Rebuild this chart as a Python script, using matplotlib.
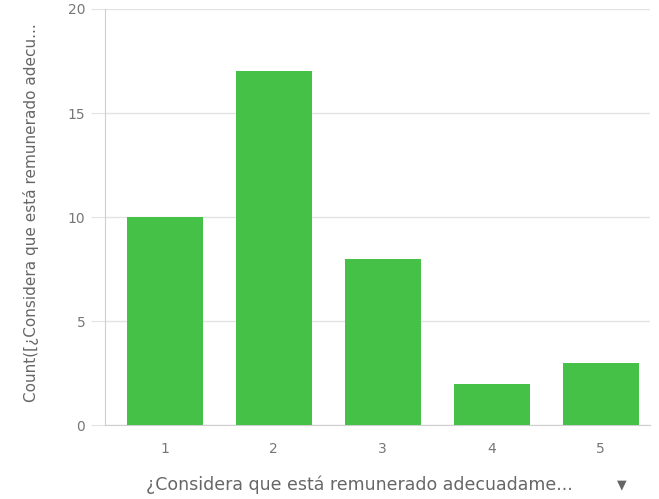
import matplotlib.pyplot as plt

plt.rcParams["font.family"] = "DejaVu Sans"

# datos
categories = ["1", "2", "3", "4", "5"]
counts = [10, 17, 8, 2, 3]
y_ticks = [0, 5, 10, 15, 20]

bar_color = "#45c148"
text_color = "#777777"
grid_color = "#e3e3e3"

fig = plt.figure(figsize=(6.59, 4.99), dpi=100)
ax = fig.add_axes([0.159, 0.148, 0.827, 0.834])

ax.bar(categories, counts, width=0.7, color=bar_color, zorder=3)

ax.set_ylim(0, 20)
ax.set_xlim(-0.55, 4.45)
ax.set_yticks(y_ticks)
ax.set_yticklabels([str(v) for v in y_ticks])
ax.grid(axis="y", color=grid_color, linewidth=1, zorder=0)

for side in ["top", "right"]:
    ax.spines[side].set_visible(False)
ax.spines["left"].set_color("#cfcfcf")
ax.spines["bottom"].set_color("#cfcfcf")

ax.tick_params(axis="y", length=10, color=grid_color, labelsize=10, labelcolor=text_color, pad=4)
ax.tick_params(axis="x", length=0, labelsize=10, labelcolor=text_color, pad=12)

ax.set_ylabel("Count([¿Considera que está remunerado adecu...", fontsize=11,
              color="#666666")
ax.yaxis.set_label_coords(-0.12, 0.51)

fig.text(0.545, 0.028, "¿Considera que está remunerado adecuadame...", ha="center",
         va="center", fontsize=12.5, color="#666666")
fig.text(0.943, 0.028, "▼", ha="center", va="center", fontsize=9, color="#666666")

fig.savefig("out.png", dpi=100)
